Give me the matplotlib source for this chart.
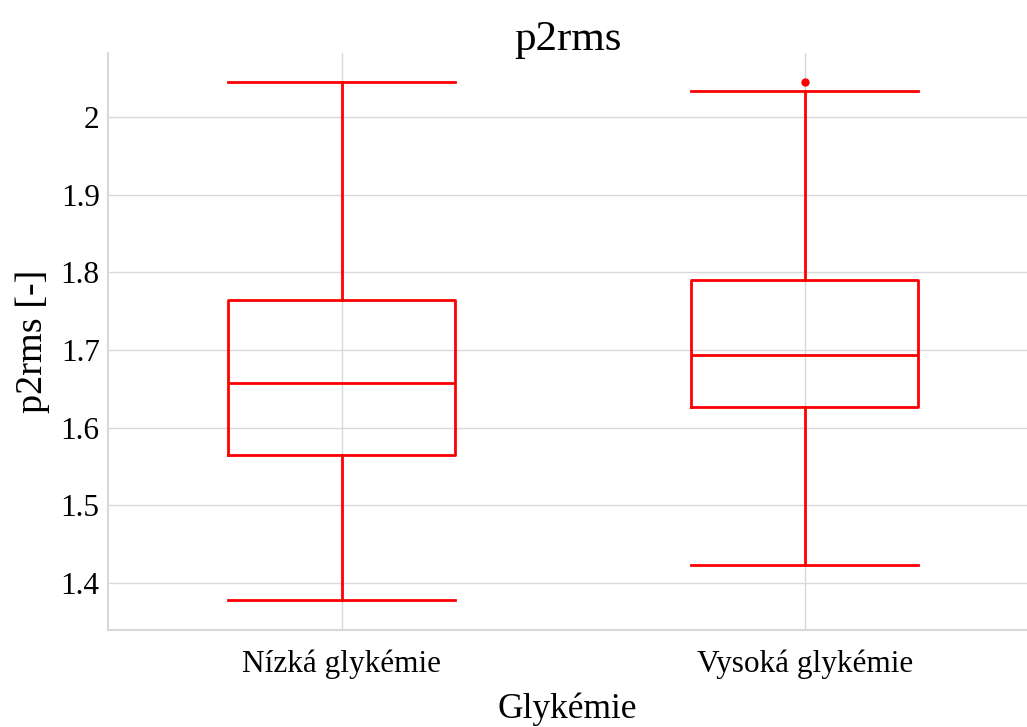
import matplotlib
matplotlib.use("Agg")
import matplotlib.pyplot as plt

plt.rcParams['font.family'] = ['Liberation Serif', 'DejaVu Serif']

categories = ['Nízká glykémie', 'Vysoká glykémie']
whislo = [1.378, 1.423]
q1 = [1.565, 1.627]
med = [1.658, 1.693]
q3 = [1.764, 1.790]
whishi = [2.046, 2.034]
fliers = [[], [2.046]]

stats = []
for i in range(len(categories)):
    stats.append({'label': categories[i], 'whislo': whislo[i], 'q1': q1[i],
                  'med': med[i], 'q3': q3[i], 'whishi': whishi[i],
                  'fliers': fliers[i]})

fig = plt.figure(figsize=(10.27, 7.27), dpi=100)
ax = fig.add_axes([108 / 1027, 97 / 727, 1 - 108 / 1027, 1 - 97 / 727 - 53 / 727])

red = dict(color='#ff0000', linewidth=2)
ax.bxp(stats, positions=[0, 1], widths=0.49, showcaps=True,
       boxprops=red, whiskerprops=red, capprops=red, medianprops=red,
       flierprops=dict(marker='o', markersize=5, markerfacecolor='#ff0000',
                       markeredgecolor='#ff0000'),
       capwidths=0.49)

ax.set_xlim(-0.505, 1.48)
ax.set_ylim(1.339, 2.083)
ax.set_yticks([1.4, 1.5, 1.6, 1.7, 1.8, 1.9, 2.0])
ax.set_yticklabels(['1.4', '1.5', '1.6', '1.7', '1.8', '1.9', '2'])
ax.grid(True, color='#d9d9d9', linewidth=1)
ax.set_axisbelow(True)
for s in ['top', 'right']:
    ax.spines[s].set_visible(False)
for s in ['left', 'bottom']:
    ax.spines[s].set_color('#d9d9d9')
    ax.spines[s].set_linewidth(1.5)
ax.tick_params(length=0, labelsize=22.5)
ax.tick_params(axis='y', pad=6)
ax.tick_params(axis='x', pad=14)

ax.set_title('p2rms', fontsize=31, y=1.005, pad=0)
ax.set_xlabel('Glykémie', fontsize=25.5, labelpad=10)
ax.set_ylabel('p2rms [-]', fontsize=27.5, labelpad=8)

fig.savefig('out.png', dpi=100)
